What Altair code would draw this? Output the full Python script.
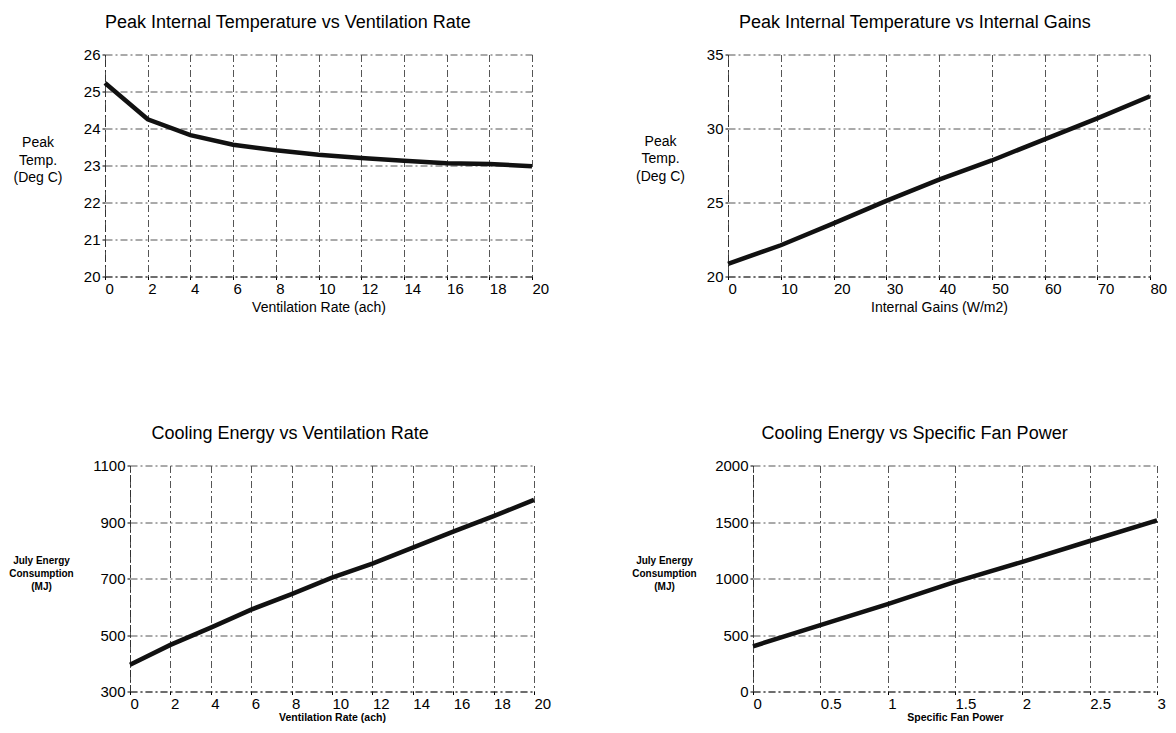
import altair as alt
import pandas as pd

FONT = "Liberation Sans"
INK = "#000000"
GRID = "#555555"
DASH = [7, 3, 2, 3]

# ---- data ----
vent_rate = [0, 2, 4, 6, 8, 10, 12, 14, 16, 18, 20]
peak_temp_vent = [25.23, 24.25, 23.82, 23.56, 23.41, 23.29, 23.20, 23.13, 23.06, 23.04, 22.98]

internal_gains = [0, 10, 20, 30, 40, 50, 60, 70, 80]
peak_temp_gains = [20.86, 22.11, 23.59, 25.11, 26.55, 27.84, 29.27, 30.68, 32.18]

cooling_vent = [395, 465, 526, 590, 645, 703, 753, 809, 866, 921, 978]

fan_power = [0, 0.5, 1, 1.5, 2, 2.5, 3]
cooling_fan = [400, 588, 774, 971, 1147, 1332, 1515]

# tick values
vent_ticks = [0, 2, 4, 6, 8, 10, 12, 14, 16, 18, 20]
temp_ticks_1 = [20, 21, 22, 23, 24, 25, 26]
gains_ticks = [0, 10, 20, 30, 40, 50, 60, 70, 80]
temp_ticks_2 = [20, 25, 30, 35]
energy_ticks_1 = [300, 500, 700, 900, 1100]
fan_ticks = [0, 0.5, 1, 1.5, 2, 2.5, 3]
energy_ticks_2 = [0, 500, 1000, 1500, 2000]


def axis_common():
    return dict(
        grid=True, gridColor=GRID, gridDash=DASH, gridWidth=1, gridOpacity=1,
        domainColor="#333333", domainDash=DASH, domainWidth=1,
        tickColor=INK, tickSize=3, tickWidth=1,
        labelFont=FONT, labelFontSize=15, labelColor=INK, labelPadding=2,
        labelOverlap=False, labelFlush=False,
        titleFont=FONT, titleColor=INK,
    )


def panel(xs, ys, title, title_dx, xtitle, ytitle, xdom, ydom, xvals, yvals,
          xfmt, width, height, xtitle_size, ytitle_size, title_weight,
          ytitle_x, ytitle_y, ytitle_lh, xtitle_y, xrange=None, yoffset=0):
    df = pd.DataFrame({"x": xs, "y": ys})
    xs_kw = dict(domain=xdom, nice=False, zero=False)
    if xrange is not None:
        xs_kw["range"] = xrange
    xaxis = alt.Axis(
        values=xvals, format=xfmt, labelAlign="left", labelBaseline="top",
        title=xtitle, titleFontSize=xtitle_size, titleFontWeight=title_weight,
        titleBaseline="middle", titleY=xtitle_y, **axis_common())
    yaxis = alt.Axis(
        values=yvals, format="d", labelAlign="right", labelBaseline="middle",
        title=ytitle, titleFontSize=ytitle_size, titleFontWeight=title_weight,
        titleAngle=0, titleAlign="center", titleBaseline="middle",
        titleX=ytitle_x, titleY=ytitle_y, titleLineHeight=ytitle_lh,
        offset=yoffset, **axis_common())
    return alt.Chart(
        df,
        title=alt.TitleParams(
            text=title, anchor="start", frame="group", dx=title_dx, offset=16,
            fontSize=18, font=FONT, fontWeight="normal", color=INK),
    ).mark_line(color="#111111", strokeWidth=4.5).encode(
        x=alt.X("x:Q", scale=alt.Scale(**xs_kw), axis=xaxis),
        y=alt.Y("y:Q", scale=alt.Scale(domain=ydom, nice=False, zero=False), axis=yaxis),
    ).properties(width=width, height=height)


p1 = panel(vent_rate, peak_temp_vent, "Peak Internal Temperature vs Ventilation Rate", 0,
           "Ventilation Rate (ach)", ["Peak", "Temp.", "(Deg C)"], [0, 20], [20, 26],
           vent_ticks, temp_ticks_1, "d", 427, 222, 14, 14, "normal",
           -67.5, 88, 17.5, 31)

p2 = panel(internal_gains, peak_temp_gains, "Peak Internal Temperature vs Internal Gains", 11,
           "Internal Gains (W/m2)", ["Peak", "Temp.", "(Deg C)"], [0, 80], [20, 35],
           gains_ticks, temp_ticks_2, "d", 422, 222, 14, 14, "normal",
           -68, 86.5, 17.5, 31)

p3 = panel(vent_rate, cooling_vent, "Cooling Energy vs Ventilation Rate", 46.5,
           "Ventilation Rate (ach)", ["July Energy", "Consumption", "(MJ)"], [0, 20], [300, 1100],
           vent_ticks, energy_ticks_1, "d", 429, 226, 10.5, 10, "bold",
           -89, 94.5, 13, 26, xrange=[25, 429], yoffset=-25)

p4 = panel(fan_power, cooling_fan, "Cooling Energy vs Specific Fan Power", 33.5,
           "Specific Fan Power", ["July Energy", "Consumption", "(MJ)"], [0, 3], [0, 2000],
           fan_ticks, energy_ticks_2, "~g", 429, 226, 10.5, 10, "bold",
           -89, 94.5, 13, 26, xrange=[25, 429], yoffset=-25)

chart = alt.concat(
    p1, p2, p3, p4, columns=2,
    spacing={"row": 189, "column": 194}, align="each", bounds="flush",
).properties(
    padding={"left": 0, "top": 5.5, "right": 0, "bottom": -1},
    background="white",
).configure_view(stroke=None)

chart.save("out.html", embed_options={"renderer": "svg", "actions": False})
